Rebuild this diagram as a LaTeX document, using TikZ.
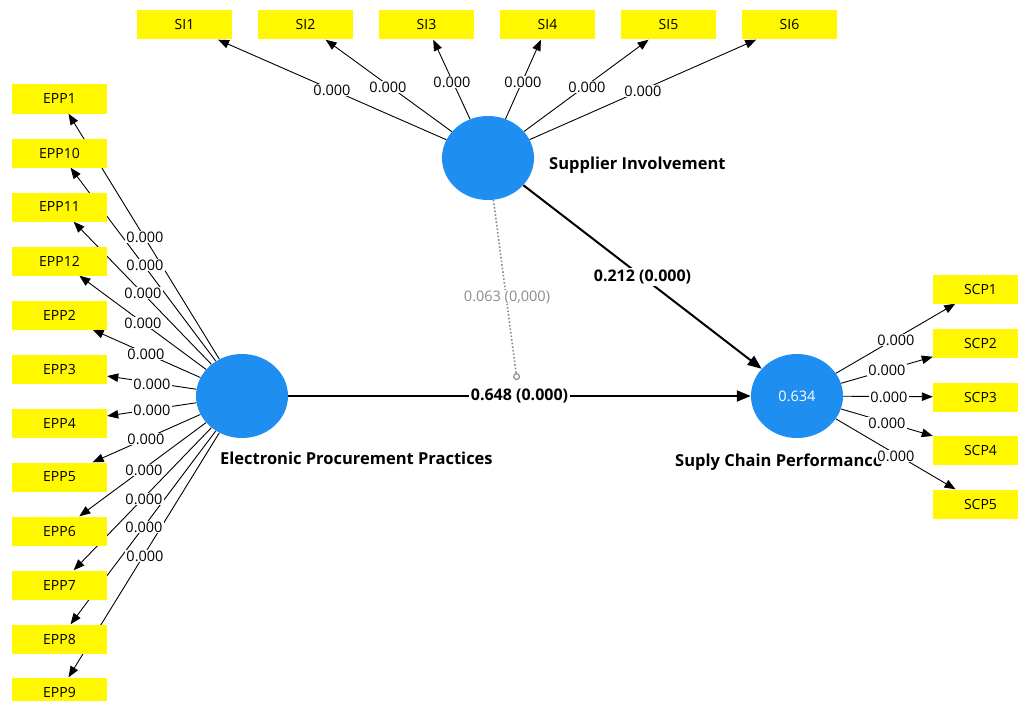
\documentclass[tikz,border=0pt]{standalone}
\usepackage{fontspec}
\setmainfont{Open Sans}
\usetikzlibrary{arrows.meta,shapes.geometric,backgrounds}
\definecolor{boxyellow}{RGB}{255,248,0}
\definecolor{lvblue}{RGB}{30,142,240}
\definecolor{modgray}{RGB}{140,140,140}
\begin{document}
\begin{tikzpicture}[x=1pt,y=-1pt,
  ind/.style={fill=boxyellow,minimum width=95pt,minimum height=29pt,inner sep=0pt,font=\fontsize{14}{16}\selectfont},
  lv/.style={ellipse,fill=lvblue,minimum width=92pt,minimum height=84pt,inner sep=0pt},
  meas/.style={line width=0.9pt,-{Triangle[length=11pt,width=8.5pt]}},
  struct/.style={line width=2pt,-{Triangle[length=14pt,width=11pt]}},
  val/.style={fill=white,inner sep=1pt,font=\fontsize{14.5}{16}\selectfont},
  pathval/.style={fill=white,inner sep=2pt,font=\bfseries\fontsize{16}{18}\selectfont},
  lvname/.style={anchor=west,inner sep=0pt,font=\bfseries\fontsize{16.5}{18}\selectfont}
]
\useasboundingbox (0,0) rectangle (1018,701);
\clip (0,0) rectangle (1018,701);
\begin{pgfonlayer}{background}
\fill[white] (0,0) rectangle (1018,701);
\end{pgfonlayer}

% latent variables
\node[lv] (si) at (488,158) {};
\node[lv] (epp) at (242,396) {};
\node[lv] (scp) at (797,396) {\color{white}\fontsize{14.5}{16}\selectfont 0.634};

% indicators
\node[ind] (si1) at (184.5,25) {SI1};
\node[ind] (si2) at (305.5,25) {SI2};
\node[ind] (si3) at (426.5,25) {SI3};
\node[ind] (si4) at (547.5,25) {SI4};
\node[ind] (si5) at (668.5,25) {SI5};
\node[ind] (si6) at (789.5,25) {SI6};

\node[ind] (e1)  at (59.5,99)  {EPP1};
\node[ind] (e10) at (59.5,153) {EPP10};
\node[ind] (e11) at (59.5,207) {EPP11};
\node[ind] (e12) at (59.5,261) {EPP12};
\node[ind] (e2)  at (59.5,315) {EPP2};
\node[ind] (e3)  at (59.5,369) {EPP3};
\node[ind] (e4)  at (59.5,423) {EPP4};
\node[ind] (e5)  at (59.5,477) {EPP5};
\node[ind] (e6)  at (59.5,531) {EPP6};
\node[ind] (e7)  at (59.5,585) {EPP7};
\node[ind] (e8)  at (59.5,639) {EPP8};
\node[ind] (e9)  at (59.5,692) {EPP9};

\node[ind] (c1) at (980.5,289) {SCP1};
\node[ind] (c2) at (980.5,343) {SCP2};
\node[ind] (c3) at (980.5,397) {SCP3};
\node[ind] (c4) at (980.5,450) {SCP4};
\node[ind] (c5) at (980.5,504) {SCP5};

% latent names
\node[lvname] (siname) at (549,165) {Supplier Involvement};
\node[lvname] (eppname) at (220,458) {Electronic Procurement Practices};
\node[lvname] (scpname) at (675,462) {Suply Chain Performance};

% connectors
\coordinate (modend) at (517,380);
\begin{pgfonlayer}{background}
\foreach \t in {si1,si2,si3,si4,si5,si6}
  \draw[meas] (si) -- (\t);
\foreach \t in {e1,e10,e11,e12,e2,e3,e4,e5,e6,e7,e8,e9}
  \draw[meas] (epp) -- (\t);
\foreach \t in {c1,c2,c3,c4,c5}
  \draw[meas] (scp) -- (\t);
\draw[struct] (epp) -- node[pathval] (p1) {0.648 (0.000)} (scp);
\draw[struct] (si) -- node[pathval] (p2) {0.212 (0.000)} (scp);
\draw[modgray,line width=1.6pt,dash pattern=on 1.6pt off 2pt,-{Circle[open,length=7pt,width=7pt,line width=1.2pt]}] (si) -- (modend);
\end{pgfonlayer}

% loading values
\node[val] (vs1) at (332,90) {0.000};
\node[val] (vs2) at (388,87) {0.000};
\node[val] (vs3) at (452,82) {0.000};
\node[val] (vs4) at (523,82) {0.000};
\node[val] (vs5) at (587,87) {0.000};
\node[val] (vs6) at (643,91) {0.000};

\node[val] (ve1)  at (145,237) {0.000};
\node[val] (ve10) at (145,265) {0.000};
\node[val] (ve11) at (143,293) {0.000};
\node[val] (ve12) at (143,323) {0.000};
\node[val] (ve2)  at (146,354) {0.000};
\node[val] (ve3)  at (152,384) {0.000};
\node[val] (ve4)  at (152,410) {0.000};
\node[val] (ve5)  at (146,439) {0.000};
\node[val] (ve6)  at (144,470) {0.000};
\node[val] (ve7)  at (144,499) {0.000};
\node[val] (ve8)  at (144,527) {0.000};
\node[val] (ve9)  at (145,556) {0.000};

\node[val] (vc1) at (896,340) {0.000};
\node[val] (vc2) at (887,370) {0.000};
\node[val] (vc3) at (889,397) {0.000};
\node[val] (vc4) at (887,423) {0.000};
\node[val] (vc5) at (896,456) {0.000};

\node[fill=white,inner sep=1pt,text=modgray,font=\fontsize{14.5}{16}\selectfont] (p3) at (507,297) {0.063 (0,000)};
\end{tikzpicture}
\end{document}
